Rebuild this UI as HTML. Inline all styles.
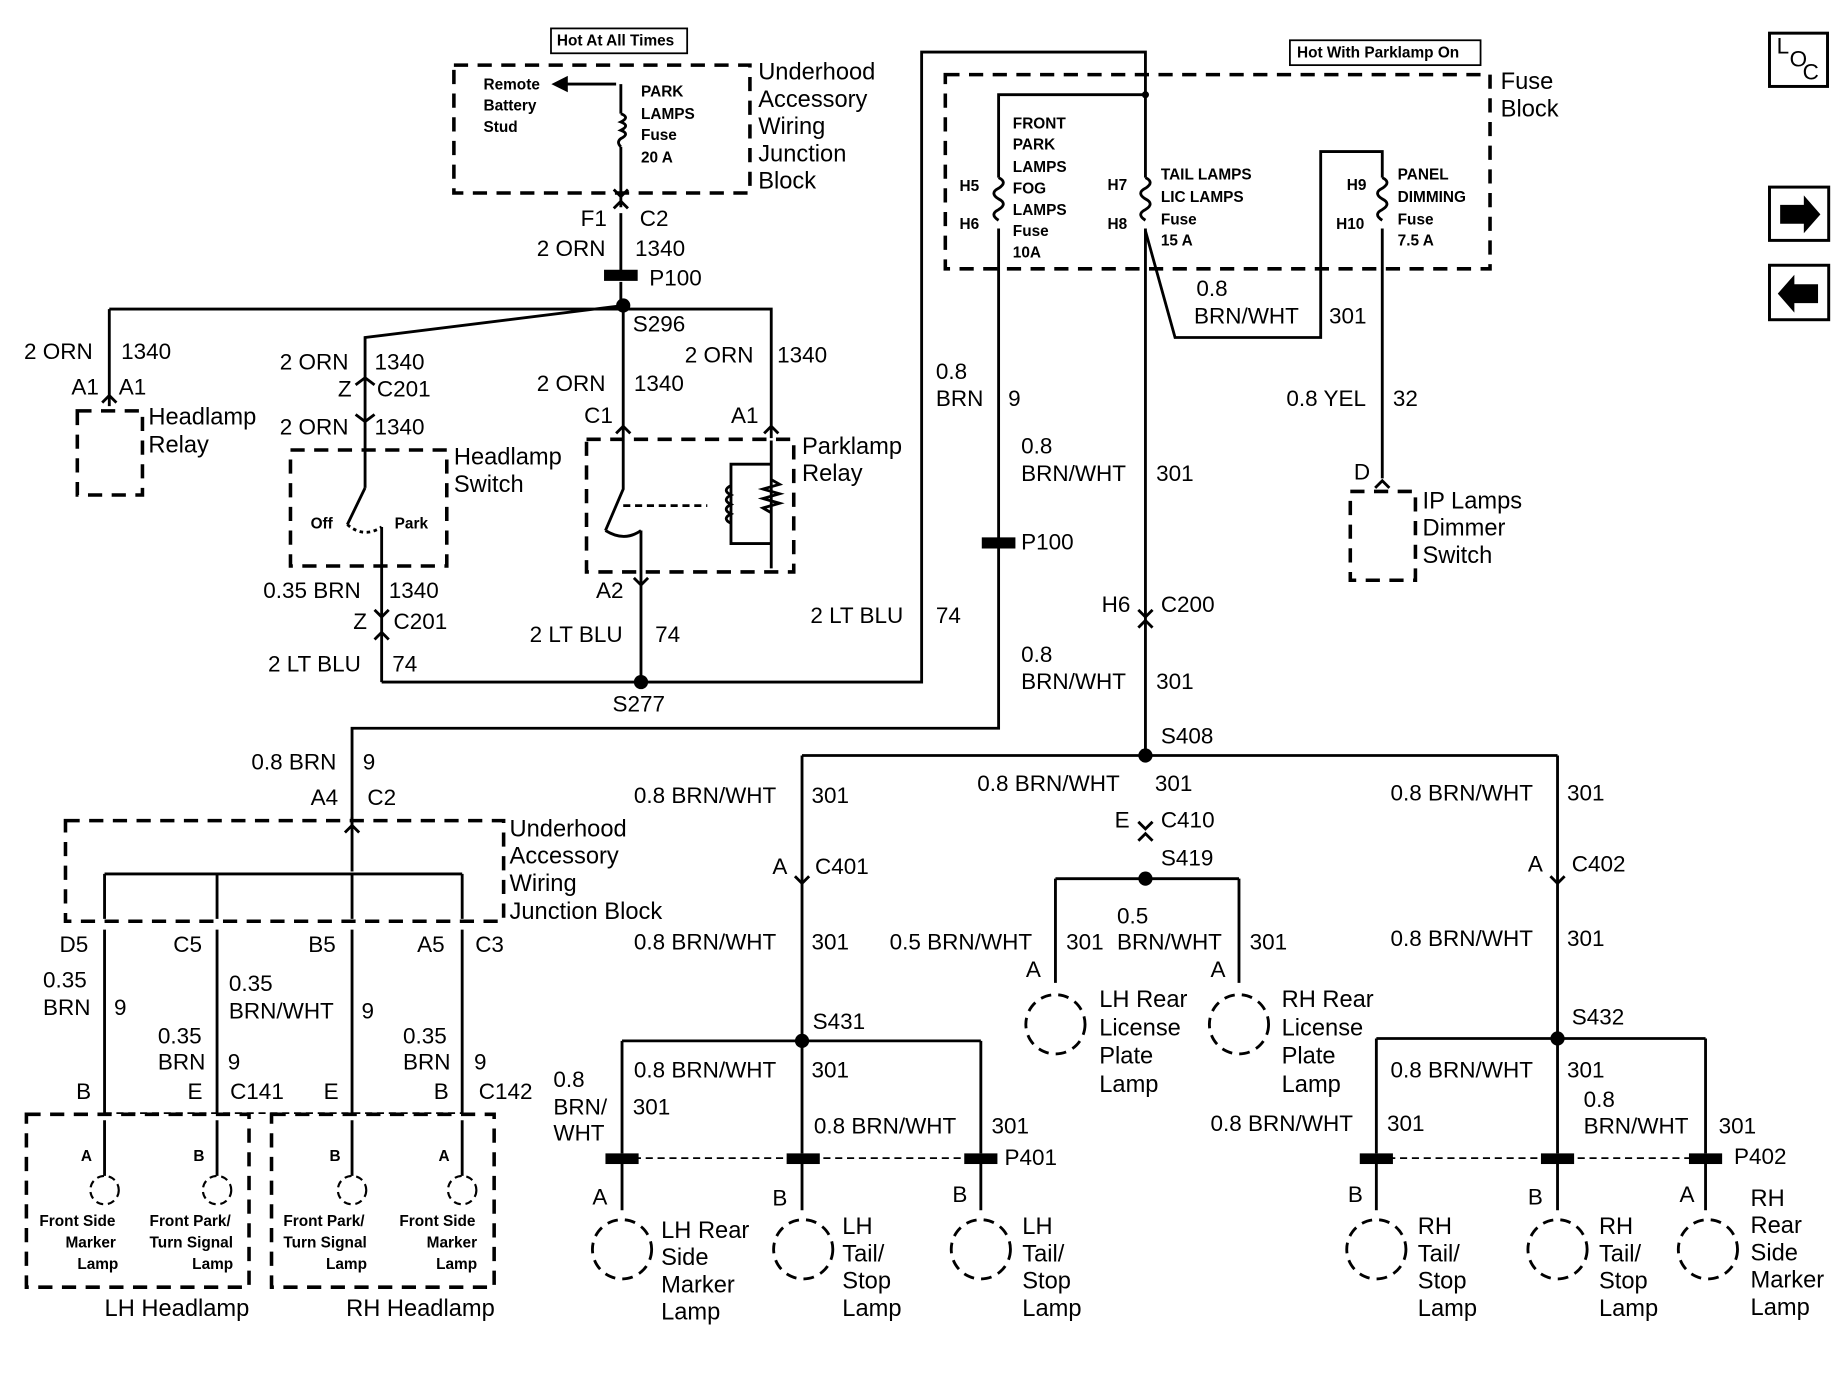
<!DOCTYPE html>
<html><head><meta charset="utf-8"><style>
html,body{margin:0;padding:0;background:#fff;}
svg{display:block}
text{font-family:"Liberation Sans",Arial,sans-serif;font-size:19px;fill:#000;dominant-baseline:middle}
.s{font-size:13px;font-weight:bold}
.m{font-size:20px}
</style></head><body>
<svg width="1848" height="1376" viewBox="0 0 1560 1162" xmlns="http://www.w3.org/2000/svg">
<g fill="none" stroke="#000" stroke-width="2.4">
<!-- dashed boxes -->
<g stroke-dasharray="12,8" stroke-width="3">
<rect x="383" y="55" width="250" height="108"/>
<rect x="65" y="347" width="55" height="71"/>
<rect x="245" y="380" width="132" height="98"/>
<rect x="495" y="371" width="175" height="112"/>
<rect x="798" y="63" width="460" height="164"/>
<rect x="1140" y="415" width="55" height="75"/>
<rect x="55" y="693" width="370" height="85"/>
<rect x="22" y="941" width="188" height="146"/>
<rect x="229" y="941" width="188" height="146"/>
</g>
<rect x="465" y="24" width="115" height="21" stroke-width="1.5"/>
<rect x="1089" y="34" width="161" height="21" stroke-width="1.5"/>
<!-- top feed -->
<path d="M524 71 V96 M524 124 V175 M524 180 V228 M524 238 V258"/>
<path d="M524 96 q8 3 0 7 q8 3 0 7 q8 3 0 7 q-4 3 0 7"/>
<path d="M520 71 H472"/><path d="M478 66 L468 71 L478 76 Z" fill="#000"/>
<path d="M518 160 L524 166 L530 160 M518 176 L524 170 L530 176"/>
<rect x="511" y="229" width="26" height="7" fill="#000"/>
<!-- S296 branches -->
<path d="M92 261 H526 M92 261 V343 M526 258 L308 285 V412 M526 258 V370 M526 261 H651 V370"/>
<path d="M86 340 L92 334 L98 340 M300 325 L308 319 L316 325 M300 350 L308 356 L316 350 M520 366 L526 360 L532 366 M645 366 L651 360 L657 366"/>
<!-- headlamp switch -->
<path d="M308 412 L293 443 M322 445 V576"/>
<path d="M293 443 Q307 455 322 445" stroke-dasharray="3,3"/>
<path d="M316 540 L322 534 L328 540 M316 515 L322 521 L328 515"/>
<!-- parklamp relay -->
<path d="M526 370 V413 L511 448 M541 448 V576 M511 448 Q527 458 541 448" />
<path d="M526 427 H597" stroke-dasharray="6,4"/>
<path d="M651 372 V480 M651 392 H617 V459 H651"/>
<path d="M617 410 q-8 4 0 8 q-8 4 0 8 q-8 4 0 8 q-8 4 0 8"/>
<path d="M651 405 l7 4 l-14 4 l14 4 l-14 4 l14 4 l-14 4 l7 4" fill="none"/>
<path d="M535 488 L541 494 L547 488"/>
<!-- S277 and loop -->
<path d="M322 576 H778 V44 H967 V80"/>
<!-- fuse block internals -->
<path d="M967 80 H843 V150 M843 193 V615 H297 V736"/>
<path d="M843 150 q8 4 0 9 q-8 4 0 9 q8 4 0 9 q-8 4 0 9"/>
<path d="M967 80 V150 M967 193 V638"/>
<path d="M967 150 q8 4 0 9 q-8 4 0 9 q8 4 0 9 q-8 4 0 9"/>
<path d="M967 195 L992 285 H1115 V128 H1167 V150 M1167 193 V404"/>
<path d="M1167 150 q8 4 0 9 q-8 4 0 9 q8 4 0 9 q-8 4 0 9"/>
<path d="M1161 412 L1167 406 L1173 412"/>
<rect x="830" y="455" width="26" height="7" fill="#000"/>
<path d="M961 515 L967 521 L973 515 M961 530 L967 524 L973 530"/>
<!-- S408 distribution -->
<path d="M677 638 H1315 M677 638 V879 M1315 638 V877"/>
<path d="M671 740 L677 746 L683 740 M1309 740 L1315 746 L1321 740 M961 694 L967 700 L973 694 M961 710 L967 704 L973 710"/>
<path d="M891 742 H1046 M891 742 V830 M1046 742 V830"/>
<circle cx="891" cy="865" r="25" stroke-dasharray="9,6"/>
<circle cx="1046" cy="865" r="25" stroke-dasharray="9,6"/>
<!-- S431 -->
<path d="M525 879 H828 M525 879 V974 M677 879 V974 M828 879 V974 M525 983 V1022 M677 983 V1022 M828 983 V1022"/>
<path d="M525 978 H828" stroke-dasharray="6,4" stroke-width="1.5"/>
<path d="M1162 877 H1440 M1162 877 V974 M1315 877 V974 M1440 877 V974 M1162 983 V1022 M1315 983 V1022 M1440 983 V1022"/>
<path d="M1162 978 H1440" stroke-dasharray="6,4" stroke-width="1.5"/>
<g stroke-dasharray="9,6">
<circle cx="525" cy="1055" r="25"/><circle cx="678" cy="1055" r="25"/><circle cx="828" cy="1055" r="25"/>
<circle cx="1162" cy="1055" r="25"/><circle cx="1315" cy="1055" r="25"/><circle cx="1442" cy="1055" r="25"/>
</g>
<!-- bottom-left -->
<path d="M88 738 H390 M88 738 V776 M183 738 V776 M297 738 V776 M390 738 V776 M297 690 V700"/>
<path d="M291 703 L297 697 L303 703"/>
<path d="M88 785 V940 M183 785 V940 M297 785 V940 M390 785 V940 M88 946 V993 M183 946 V993 M297 946 V993 M390 946 V993"/>
<path d="M88 940 H390" stroke-dasharray="6,4" stroke-width="1.5"/>
<g stroke-dasharray="6,4" stroke-width="1.8">
<circle cx="88" cy="1005" r="12"/><circle cx="183" cy="1005" r="12"/><circle cx="297" cy="1005" r="12"/><circle cx="390" cy="1005" r="12"/>
</g>
<!-- right icons -->
<rect x="1494" y="28" width="49" height="45" stroke-width="2.5"/>
<rect x="1494" y="158" width="50" height="45" stroke-width="2.5"/>
<rect x="1494" y="224" width="50" height="46" stroke-width="2.5"/>
</g>
<g fill="#000">
<circle cx="526" cy="258" r="6"/><circle cx="541" cy="576" r="6"/><circle cx="967" cy="638" r="6"/>
<circle cx="967" cy="742" r="6"/><circle cx="677" cy="879" r="6"/><circle cx="1315" cy="877" r="6"/>
<circle cx="967" cy="80" r="3"/>
<g><rect x="511" y="974" width="28" height="9"/><rect x="664" y="974" width="28" height="9"/><rect x="814" y="974" width="28" height="9"/>
<rect x="1148" y="974" width="28" height="9"/><rect x="1301" y="974" width="28" height="9"/><rect x="1426" y="974" width="28" height="9"/></g>
<path d="M1503 173 h20 v-8 l14 16 l-14 16 v-8 h-20z"/>
<path d="M1535 240 h-20 v-8 l-14 16 l14 16 v-8 h20z"/>
</g>
<!-- text -->
<text x="470" y="35" class="s">Hot At All Times</text>
<text x="1095" y="45" class="s">Hot With Parklamp On</text>
<text x="1500" y="40" font-size="14">L</text><text x="1511" y="51" font-size="14">O</text><text x="1522" y="62" font-size="14">C</text>
<text x="408" y="72" class="s">Remote</text><text x="408" y="90" class="s">Battery</text><text x="408" y="108" class="s">Stud</text>
<text x="541" y="78" class="s">PARK</text><text x="541" y="97" class="s">LAMPS</text><text x="541" y="115" class="s">Fuse</text><text x="541" y="134" class="s">20 A</text>
<text x="640" y="62" class="m">Underhood</text><text x="640" y="85" class="m">Accessory</text><text x="640" y="108" class="m">Wiring</text><text x="640" y="131" class="m">Junction</text><text x="640" y="154" class="m">Block</text>
<text x="490" y="186">F1</text><text x="540" y="186">C2</text>
<text x="453" y="211">2 ORN</text><text x="536" y="211">1340</text><text x="548" y="236">P100</text>
<text x="534" y="275">S296</text>
<text x="20" y="298">2 ORN</text><text x="102" y="298">1340</text>
<text x="60" y="328">A1</text><text x="100" y="328">A1</text>
<text x="125" y="353" class="m">Headlamp</text><text x="125" y="377" class="m">Relay</text>
<text x="236" y="307">2 ORN</text><text x="316" y="307">1340</text>
<text x="285" y="330">Z</text><text x="318" y="330">C201</text>
<text x="236" y="362">2 ORN</text><text x="316" y="362">1340</text>
<text x="383" y="387" class="m">Headlamp</text><text x="383" y="410" class="m">Switch</text>
<text x="262" y="443" class="s">Off</text><text x="333" y="443" class="s">Park</text>
<text x="222" y="500">0.35 BRN</text><text x="328" y="500">1340</text>
<text x="298" y="526">Z</text><text x="332" y="526">C201</text>
<text x="226" y="562">2 LT BLU</text><text x="331" y="562">74</text>
<text x="453" y="325">2 ORN</text><text x="535" y="325">1340</text>
<text x="578" y="301">2 ORN</text><text x="656" y="301">1340</text>
<text x="493" y="352">C1</text><text x="617" y="352">A1</text>
<text x="677" y="378" class="m">Parklamp</text><text x="677" y="401" class="m">Relay</text>
<text x="503" y="500">A2</text>
<text x="447" y="537">2 LT BLU</text><text x="553" y="537">74</text>
<text x="684" y="521">2 LT BLU</text><text x="790" y="521">74</text>
<text x="517" y="596">S277</text>
<text x="1267" y="70" class="m">Fuse</text><text x="1267" y="93" class="m">Block</text>
<text x="855" y="105" class="s">FRONT</text><text x="855" y="123" class="s">PARK</text><text x="855" y="142" class="s">LAMPS</text><text x="855" y="160" class="s">FOG</text><text x="855" y="178" class="s">LAMPS</text><text x="855" y="196" class="s">Fuse</text><text x="855" y="214" class="s">10A</text>
<text x="810" y="158" class="s">H5</text><text x="810" y="190" class="s">H6</text>
<text x="935" y="157" class="s">H7</text><text x="935" y="190" class="s">H8</text>
<text x="980" y="148" class="s">TAIL LAMPS</text><text x="980" y="167" class="s">LIC LAMPS</text><text x="980" y="186" class="s">Fuse</text><text x="980" y="204" class="s">15 A</text>
<text x="1137" y="157" class="s">H9</text><text x="1128" y="190" class="s">H10</text>
<text x="1180" y="148" class="s">PANEL</text><text x="1180" y="167" class="s">DIMMING</text><text x="1180" y="186" class="s">Fuse</text><text x="1180" y="204" class="s">7.5 A</text>
<text x="1010" y="245">0.8</text><text x="1008" y="268">BRN/WHT</text><text x="1122" y="268">301</text>
<text x="790" y="315">0.8</text><text x="790" y="338">BRN</text><text x="851" y="338">9</text>
<text x="1086" y="338">0.8 YEL</text><text x="1176" y="338">32</text>
<text x="1143" y="400">D</text>
<text x="1201" y="424" class="m">IP Lamps</text><text x="1201" y="447" class="m">Dimmer</text><text x="1201" y="470" class="m">Switch</text>
<text x="862" y="378">0.8</text><text x="862" y="401">BRN/WHT</text><text x="976" y="401">301</text>
<text x="862" y="459">P100</text>
<text x="930" y="512">H6</text><text x="980" y="512">C200</text>
<text x="862" y="554">0.8</text><text x="862" y="577">BRN/WHT</text><text x="976" y="577">301</text>
<text x="980" y="623">S408</text>
<text x="535" y="673">0.8 BRN/WHT</text><text x="685" y="673">301</text>
<text x="652" y="733">A</text><text x="688" y="733">C401</text>
<text x="535" y="797">0.8 BRN/WHT</text><text x="685" y="797">301</text>
<text x="686" y="864">S431</text>
<text x="825" y="663">0.8 BRN/WHT</text><text x="975" y="663">301</text>
<text x="941" y="694">E</text><text x="980" y="694">C410</text>
<text x="980" y="726">S419</text>
<text x="751" y="797">0.5 BRN/WHT</text><text x="900" y="797">301</text>
<text x="943" y="775">0.5</text><text x="943" y="797">BRN/WHT</text><text x="1055" y="797">301</text>
<text x="866" y="820">A</text><text x="1022" y="820">A</text>
<text x="928" y="845" class="m">LH Rear</text><text x="928" y="869" class="m">License</text><text x="928" y="893" class="m">Plate</text><text x="928" y="917" class="m">Lamp</text>
<text x="1082" y="845" class="m">RH Rear</text><text x="1082" y="869" class="m">License</text><text x="1082" y="893" class="m">Plate</text><text x="1082" y="917" class="m">Lamp</text>
<text x="1174" y="671">0.8 BRN/WHT</text><text x="1323" y="671">301</text>
<text x="1290" y="731">A</text><text x="1327" y="731">C402</text>
<text x="1174" y="794">0.8 BRN/WHT</text><text x="1323" y="794">301</text>
<text x="1327" y="860">S432</text>
<text x="535" y="905">0.8 BRN/WHT</text><text x="685" y="905">301</text>
<text x="467" y="913">0.8</text><text x="467" y="936">BRN/</text><text x="467" y="958">WHT</text><text x="534" y="936">301</text>
<text x="687" y="952">0.8 BRN/WHT</text><text x="837" y="952">301</text>
<text x="848" y="979">P401</text>
<text x="500" y="1012">A</text><text x="652" y="1013">B</text><text x="804" y="1010">B</text>
<text x="558" y="1040" class="m">LH Rear</text><text x="558" y="1063" class="m">Side</text><text x="558" y="1086" class="m">Marker</text><text x="558" y="1109" class="m">Lamp</text>
<text x="711" y="1037" class="m">LH</text><text x="711" y="1060" class="m">Tail/</text><text x="711" y="1083" class="m">Stop</text><text x="711" y="1106" class="m">Lamp</text>
<text x="863" y="1037" class="m">LH</text><text x="863" y="1060" class="m">Tail/</text><text x="863" y="1083" class="m">Stop</text><text x="863" y="1106" class="m">Lamp</text>
<text x="1174" y="905">0.8 BRN/WHT</text><text x="1323" y="905">301</text>
<text x="1337" y="930">0.8</text><text x="1337" y="952">BRN/WHT</text><text x="1451" y="952">301</text>
<text x="1022" y="950">0.8 BRN/WHT</text><text x="1171" y="950">301</text>
<text x="1464" y="978">P402</text>
<text x="1138" y="1010">B</text><text x="1290" y="1012">B</text><text x="1418" y="1010">A</text>
<text x="1197" y="1037" class="m">RH</text><text x="1197" y="1060" class="m">Tail/</text><text x="1197" y="1083" class="m">Stop</text><text x="1197" y="1106" class="m">Lamp</text>
<text x="1350" y="1037" class="m">RH</text><text x="1350" y="1060" class="m">Tail/</text><text x="1350" y="1083" class="m">Stop</text><text x="1350" y="1106" class="m">Lamp</text>
<text x="1478" y="1013" class="m">RH</text><text x="1478" y="1036" class="m">Rear</text><text x="1478" y="1059" class="m">Side</text><text x="1478" y="1082" class="m">Marker</text><text x="1478" y="1105" class="m">Lamp</text>
<text x="212" y="645">0.8 BRN</text><text x="306" y="645">9</text>
<text x="262" y="675">A4</text><text x="310" y="675">C2</text>
<text x="430" y="701" class="m">Underhood</text><text x="430" y="724" class="m">Accessory</text><text x="430" y="747" class="m">Wiring</text><text x="430" y="771" class="m">Junction Block</text>
<text x="50" y="799">D5</text><text x="146" y="799">C5</text><text x="260" y="799">B5</text><text x="352" y="799">A5</text><text x="401" y="799">C3</text>
<text x="36" y="829">0.35</text><text x="36" y="852">BRN</text><text x="96" y="852">9</text>
<text x="193" y="832">0.35</text><text x="193" y="855">BRN/WHT</text><text x="305" y="855">9</text>
<text x="133" y="876">0.35</text><text x="133" y="898">BRN</text><text x="192" y="898">9</text>
<text x="340" y="876">0.35</text><text x="340" y="898">BRN</text><text x="400" y="898">9</text>
<text x="64" y="923">B</text><text x="158" y="923">E</text><text x="194" y="923">C141</text>
<text x="273" y="923">E</text><text x="366" y="923">B</text><text x="404" y="923">C142</text>
<text x="68" y="977" class="s">A</text><text x="163" y="977" class="s">B</text><text x="278" y="977" class="s">B</text><text x="370" y="977" class="s">A</text>
<text x="33" y="1032" class="s">Front Side</text><text x="55" y="1050" class="s">Marker</text><text x="65" y="1068" class="s">Lamp</text>
<text x="126" y="1032" class="s">Front Park/</text><text x="126" y="1050" class="s">Turn Signal</text><text x="162" y="1068" class="s">Lamp</text>
<text x="239" y="1032" class="s">Front Park/</text><text x="239" y="1050" class="s">Turn Signal</text><text x="275" y="1068" class="s">Lamp</text>
<text x="337" y="1032" class="s">Front Side</text><text x="360" y="1050" class="s">Marker</text><text x="368" y="1068" class="s">Lamp</text>
<text x="88" y="1106" class="m">LH Headlamp</text><text x="292" y="1106" class="m">RH Headlamp</text>
</svg>
</body></html>
